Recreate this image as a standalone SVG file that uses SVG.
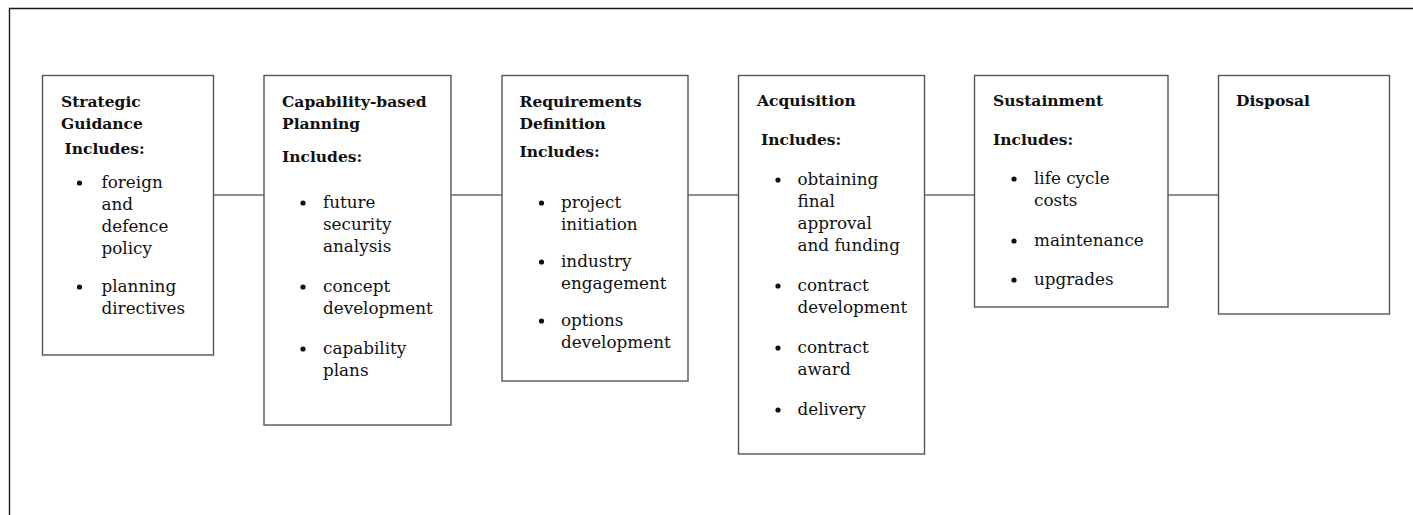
<svg xmlns="http://www.w3.org/2000/svg" width="1413" height="515" viewBox="0 0 1413 515">
<style>
.frame{fill:none;stroke:#1a1a1a;stroke-width:1.4}
.box{fill:#fff;stroke:#555;stroke-width:1.4}
.conn{stroke:#6b6b6b;stroke-width:1.4;fill:none}
.t{font-family:"DejaVu Serif","Liberation Serif",serif;font-weight:bold;font-size:15.5px;fill:#111}
.i{font-family:"DejaVu Serif","Liberation Serif",serif;font-size:16.8px;fill:#111}
.b{fill:#111}
</style>
<rect width="1413" height="515" fill="#fff"/>
<path class="frame" d="M9.5 515 V8.5 H1413"/>
<g id="connectors">
<line class="conn" x1="213" y1="195" x2="264" y2="195"/>
<line class="conn" x1="451" y1="195" x2="502" y2="195"/>
<line class="conn" x1="688" y1="195" x2="738" y2="195"/>
<line class="conn" x1="924" y1="195" x2="974" y2="195"/>
<line class="conn" x1="1168" y1="195" x2="1218" y2="195"/>
</g>
<g id="strategic-guidance">
<rect class="box" x="42.5" y="75.5" width="171" height="279.5"/>
<text class="t" x="61" y="107">Strategic</text>
<text class="t" x="61" y="129">Guidance</text>
<text class="t" x="64.5" y="154">Includes:</text>
<circle class="b" cx="79.5" cy="183" r="2.6"/>
<text class="i" x="101.5" y="188">foreign</text>
<text class="i" x="101.5" y="210">and</text>
<text class="i" x="101.5" y="232">defence</text>
<text class="i" x="101.5" y="254">policy</text>
<circle class="b" cx="79.5" cy="287" r="2.6"/>
<text class="i" x="101.5" y="292">planning</text>
<text class="i" x="101.5" y="314">directives</text>
</g>
<g id="capability-based-planning">
<rect class="box" x="264" y="75.5" width="187" height="349.5"/>
<text class="t" x="282" y="107">Capability-based</text>
<text class="t" x="282" y="129">Planning</text>
<text class="t" x="282" y="162">Includes:</text>
<circle class="b" cx="303" cy="203" r="2.6"/>
<text class="i" x="323" y="208">future</text>
<text class="i" x="323" y="230">security</text>
<text class="i" x="323" y="252">analysis</text>
<circle class="b" cx="303" cy="287" r="2.6"/>
<text class="i" x="323" y="292">concept</text>
<text class="i" x="323" y="314">development</text>
<circle class="b" cx="303" cy="349" r="2.6"/>
<text class="i" x="323" y="354">capability</text>
<text class="i" x="323" y="376">plans</text>
</g>
<g id="requirements-definition">
<rect class="box" x="502" y="75.5" width="186" height="305.5"/>
<text class="t" x="519.5" y="107">Requirements</text>
<text class="t" x="519.5" y="129">Definition</text>
<text class="t" x="519.5" y="157">Includes:</text>
<circle class="b" cx="541.5" cy="203" r="2.6"/>
<text class="i" x="561" y="208">project</text>
<text class="i" x="561" y="230">initiation</text>
<circle class="b" cx="541.5" cy="262" r="2.6"/>
<text class="i" x="561" y="267">industry</text>
<text class="i" x="561" y="289">engagement</text>
<circle class="b" cx="541.5" cy="321" r="2.6"/>
<text class="i" x="561" y="326">options</text>
<text class="i" x="561" y="348">development</text>
</g>
<g id="acquisition">
<rect class="box" x="738.5" y="75.5" width="186" height="378.5"/>
<text class="t" x="757" y="106">Acquisition</text>
<text class="t" x="761" y="145">Includes:</text>
<circle class="b" cx="778" cy="180" r="2.6"/>
<text class="i" x="797.5" y="185">obtaining</text>
<text class="i" x="797.5" y="207">final</text>
<text class="i" x="797.5" y="229">approval</text>
<text class="i" x="797.5" y="251">and funding</text>
<circle class="b" cx="778" cy="286" r="2.6"/>
<text class="i" x="797.5" y="291">contract</text>
<text class="i" x="797.5" y="313">development</text>
<circle class="b" cx="778" cy="348" r="2.6"/>
<text class="i" x="797.5" y="353">contract</text>
<text class="i" x="797.5" y="375">award</text>
<circle class="b" cx="778" cy="410" r="2.6"/>
<text class="i" x="797.5" y="415">delivery</text>
</g>
<g id="sustainment">
<rect class="box" x="974.5" y="75.5" width="193.5" height="231.5"/>
<text class="t" x="993" y="106">Sustainment</text>
<text class="t" x="993" y="145">Includes:</text>
<circle class="b" cx="1014" cy="179" r="2.6"/>
<text class="i" x="1034" y="184">life cycle</text>
<text class="i" x="1034" y="206">costs</text>
<circle class="b" cx="1014" cy="241" r="2.6"/>
<text class="i" x="1034" y="246">maintenance</text>
<circle class="b" cx="1014" cy="280" r="2.6"/>
<text class="i" x="1034" y="285">upgrades</text>
</g>
<g id="disposal">
<rect class="box" x="1218.5" y="75.5" width="171" height="238.5"/>
<text class="t" x="1236" y="106">Disposal</text>
</g>
</svg>
